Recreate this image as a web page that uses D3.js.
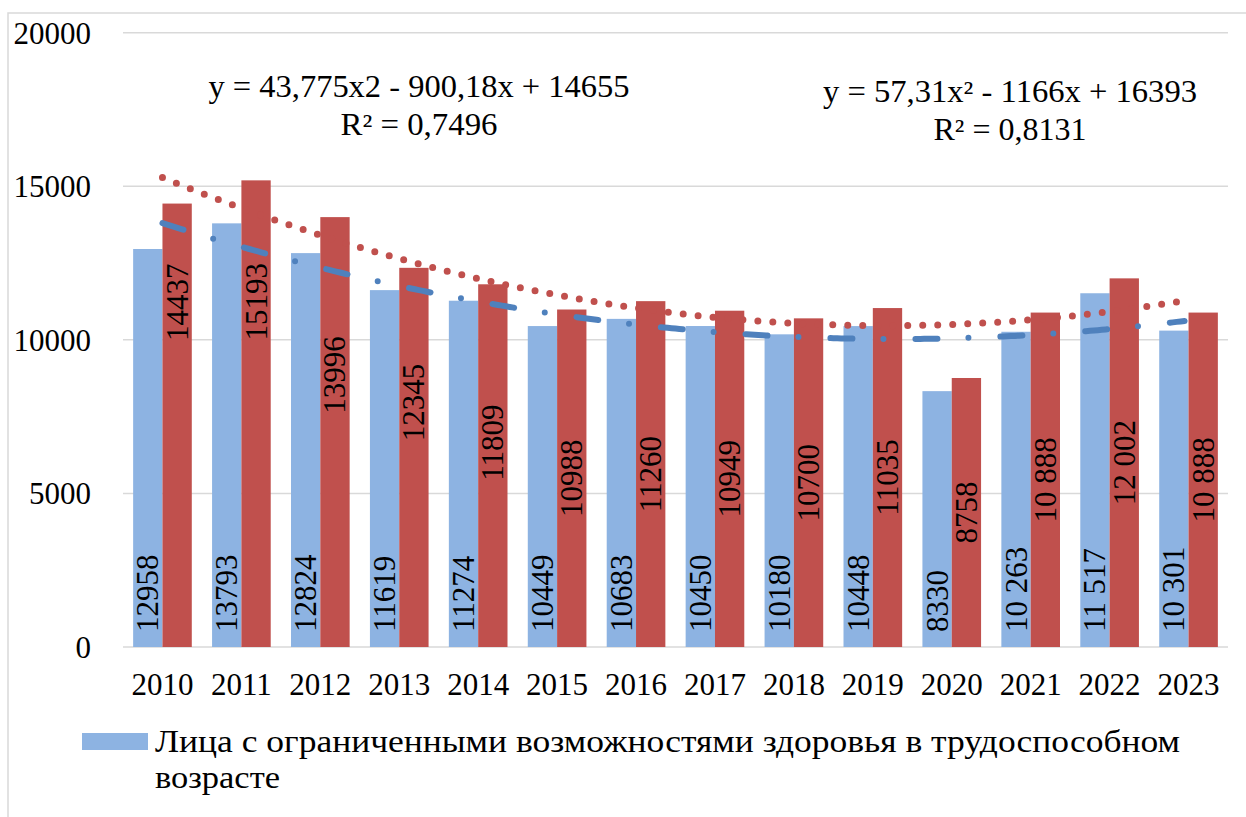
<!DOCTYPE html>
<html>
    <head>
        <meta charset="utf-8">
    </head>
    <body style="margin:0">
        <script src="https://cdn.jsdelivr.net/npm/d3@7"></script>
        <script>

//////////////////// donnees ////////////////////
let years = ['2010', '2011', '2012', '2013', '2014', '2015', '2016', '2017', '2018', '2019', '2020', '2021', '2022', '2023'];
let blueValues = [12958, 13793, 12824, 11619, 11274, 10449, 10683, 10450, 10180, 10448, 8330, 10263, 11517, 10301];
let redValues = [14437, 15193, 13996, 12345, 11809, 10988, 11260, 10949, 10700, 11035, 8758, 10888, 12002, 10888];
let blueLabels = ['12958', '13793', '12824', '11619', '11274', '10449', '10683', '10450', '10180', '10448', '8330', '10 263', '11 517', '10 301'];
let redLabels = ['14437', '15193', '13996', '12345', '11809', '10988', '11260', '10949', '10700', '11035', '8758', '10 888', '12 002', '10 888'];
let yTicks = [0, 5000, 10000, 15000, 20000];

let blueTrend = [43.775, -900.18, 14655];
let redTrend = [57.31, -1166, 16393];
let blueEquation = ['y = 43,775x2 - 900,18x + 14655', 'R² = 0,7496'];
let redEquation = ['y = 57,31x² - 1166x + 16393', 'R² = 0,8131'];
let legendLines = ['Лица с ограниченными возможностями здоровья в трудоспособном', 'возрасте'];

//////////////////// mise en page ////////////////////
let W = 1246;
let H = 817;
let plot_left = 123;
let plot_right = 1228;
let plot_top = 32.7;
let plot_bottom = 647;
let FONT = 31;
let SERIF = '"Liberation Serif"';

// etiquettes rouges deplacees a la main (px vers le haut)
let redLabelLift = [123, 112, 57, 55, 23, 0, 0, 0, 0, 0, 0, 0, 0, 0];

let svg = d3.select('body').append('svg')
    .attr('width', W)
    .attr('height', H);

// pose la police sur chaque texte
function serif(sel) {
    return sel.style('font-family', SERIF).attr('font-size', FONT).attr('fill', 'black');
}

svg.append('rect')
    .attr('x', 8)
    .attr('y', 13)
    .attr('width', W)
    .attr('height', H)
    .attr('fill', 'none')
    .attr('stroke', '#d9d9d9')
    .attr('stroke-width', 1.5);

let x = d3.scaleBand()
    .domain(years)
    .range([plot_left, plot_right])
    .paddingInner(0.257)
    .paddingOuter(0.1285);

let xSub = d3.scaleBand()
    .domain(['blue', 'red'])
    .range([0, x.bandwidth()]);

let y = d3.scaleLinear()
    .domain([0, 20000])
    .range([plot_bottom, plot_top]);

// grille
svg.append('g')
    .selectAll('line')
    .data(yTicks)
    .join('line')
    .attr('x1', plot_left)
    .attr('x2', plot_right)
    .attr('y1', d => y(d))
    .attr('y2', d => y(d))
    .attr('stroke', '#d9d9d9')
    .attr('stroke-width', 1.5);

// axe Y
let yAxis = svg.append('g')
    .attr('transform', 'translate(91, 0)')
    .call(d3.axisLeft(y).tickValues(yTicks).tickSize(0).tickPadding(0).tickFormat(d3.format('d')));
yAxis.attr('font-family', null);
yAxis.select('.domain').remove();
serif(yAxis.selectAll('text')).attr('dy', '0.34em');

// axe X
let xAxis = svg.append('g')
    .attr('transform', `translate(0, ${plot_bottom})`)
    .call(d3.axisBottom(x).tickSize(0).tickPadding(0));
xAxis.attr('font-family', null);
xAxis.select('.domain').remove();
serif(xAxis.selectAll('text')).attr('dy', '1.55em');

// barres
let groups = svg.append('g').selectAll('g')
    .data(years)
    .join('g')
    .attr('transform', d => `translate(${x(d)}, 0)`);

groups.append('rect')
    .attr('x', xSub('blue'))
    .attr('width', xSub.bandwidth())
    .attr('y', (d, i) => y(blueValues[i]))
    .attr('height', (d, i) => plot_bottom - y(blueValues[i]))
    .attr('fill', '#8db3e2');

groups.append('rect')
    .attr('x', xSub('red'))
    .attr('width', xSub.bandwidth())
    .attr('y', (d, i) => y(redValues[i]))
    .attr('height', (d, i) => plot_bottom - y(redValues[i]))
    .attr('fill', '#c0504d');

// courbes de tendance
function trendPoints(coef) {
    let pts = [];
    for (let t = 1; t <= years.length; t += 0.05) {
        pts.push([t, coef[0] * t * t + coef[1] * t + coef[2]]);
    }
    return pts;
}
let xTrend = d3.scaleLinear()
    .domain([1, years.length])
    .range([x(years[0]) + x.bandwidth() / 2, x(years[years.length - 1]) + x.bandwidth() / 2]);
let trendLine = d3.line()
    .x(d => xTrend(d[0]))
    .y(d => y(d[1]));

svg.append('path')
    .attr('d', trendLine(trendPoints(redTrend)))
    .attr('fill', 'none')
    .attr('stroke', '#c0504d')
    .attr('stroke-width', 7)
    .attr('stroke-linecap', 'round')
    .attr('stroke-dasharray', '0 15');

svg.append('path')
    .attr('d', trendLine(trendPoints(blueTrend)))
    .attr('fill', 'none')
    .attr('stroke', '#4f81bd')
    .attr('stroke-width', 6)
    .attr('stroke-linecap', 'round')
    .attr('stroke-dasharray', '22 31 0 32');

// etiquettes
serif(groups.append('text'))
    .attr('transform', (d, i) => `translate(${xSub('blue') + xSub.bandwidth() / 2}, ${plot_bottom - 15}) rotate(-90)`)
    .attr('dominant-baseline', 'central')
    .attr('text-anchor', 'start')
    .text((d, i) => blueLabels[i]);

serif(groups.append('text'))
    .attr('transform', (d, i) => `translate(${xSub('red') + xSub.bandwidth() / 2}, ${y(redValues[i] / 2) - redLabelLift[i]}) rotate(-90)`)
    .attr('dominant-baseline', 'central')
    .attr('text-anchor', 'middle')
    .text((d, i) => redLabels[i]);

// equations
function equation(lines, widths, cx, base) {
    lines.forEach((line, i) => {
        serif(svg.append('text'))
            .attr('text-anchor', 'middle')
            .attr('x', cx)
            .attr('y', base + i * 38)
            .attr('textLength', widths[i])
            .attr('lengthAdjust', 'spacingAndGlyphs')
            .text(line);
    });
}
equation(blueEquation, [421, 157], 419, 97);
equation(redEquation, [374, 153], 1010, 102);

// legende
svg.append('rect')
    .attr('x', 82)
    .attr('y', 733)
    .attr('width', 66)
    .attr('height', 17)
    .attr('fill', '#8db3e2');

let legendWidths = [1025, 125];
legendLines.forEach((line, i) => {
    serif(svg.append('text'))
        .attr('x', 155)
        .attr('y', 752 + i * 36)
        .attr('textLength', legendWidths[i])
        .attr('lengthAdjust', 'spacingAndGlyphs')
        .text(line);
});

        </script>
    </body>
</html>
